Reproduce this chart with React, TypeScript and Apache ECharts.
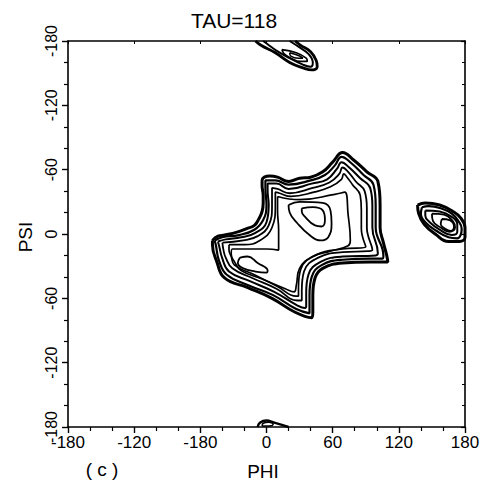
import React, { useEffect, useRef } from "react";
import * as echarts from "echarts";

const xTickLabels = ["-180", "-120", "-180", "0", "60", "120", "180"];
const yTickLabels = ["-180", "-120", "-60", "0", "-60", "-120", "-180"];

// Main region contours (phi, psi)
const mainC1 = [[-49,-6],[-44,-2],[-38,-1],[-26,2],[-18,5],[-11,8],[-7,14],[-4,21],[-3,29],[-3,36],[-4,45],[-4,50],[-2,53],[3,54],[10,53],[20,49],[30,52],[40,53],[51,58],[60,67],[69,76],[79,69],[91,58],[101,49],[103,27],[103,6],[106,-8],[109,-20],[110,-26],[94,-26],[69,-27],[51,-32],[44,-41],[42,-57],[42,-73],[41,-78],[26,-73],[5,-60],[-17,-50],[-38,-41],[-45,-26],[-49,-10]];
const mainC2 = [[-47,-6],[-40,-3],[-25,-1],[-11,4],[-3,13],[0,27],[-1,43],[-1,50],[8,50],[20,46],[40,50],[53,55],[62,64],[68,72],[77,66],[88,55],[97,46],[99,27],[99,6],[106,-20],[105,-23],[94,-23],[69,-24],[50,-29],[41,-40],[39,-57],[39,-71],[39,-74],[27,-70],[6,-57],[-16,-48],[-36,-38],[-43,-25],[-46,-10]];
const mainC3 = [[-44,-7],[-37,-5],[-23,-3],[-10,1],[0,11],[2,27],[1,41],[1,47],[9,47],[20,42],[41,47],[55,51],[64,61],[68,67],[75,62],[85,52],[94,43],[96,26],[96,6],[101,-18],[99,-20],[69,-21],[49,-26],[38,-38],[36,-55],[36,-67],[35,-69],[27,-66],[7,-54],[-15,-44],[-34,-35],[-40,-23],[-43,-11]];
const mainC4 = [[-40,-8],[-21,-6],[-8,-2],[2,8],[5,26],[5,43],[10,42],[21,38],[42,43],[57,48],[66,56],[69,62],[74,58],[81,49],[89,40],[91,24],[91,6],[96,-15],[92,-16],[69,-17],[47,-22],[34,-35],[32,-53],[32,-62],[28,-62],[9,-51],[-13,-41],[-31,-32],[-37,-22],[-39,-15]];
const mainC5 = [[-34,-10],[-20,-10],[-6,-6],[5,6],[8,26],[8,39],[12,38],[22,35],[43,39],[58,44],[68,51],[70,56],[73,53],[78,46],[85,36],[86,22],[86,5],[90,-12],[69,-14],[46,-19],[31,-33],[29,-50],[29,-58],[27,-58],[10,-49],[-11,-38],[-29,-29],[-32,-21],[-34,-15]];
const mainC6 = [[10,35],[30,32],[62,37],[71,39],[74,18],[76,-6],[74,-11],[58,-16],[42,-21],[30,-32],[27,-48],[25,-54],[17,-51],[-4,-42],[-23,-34],[-29,-26],[-32,-19],[-31,-14],[-15,-14],[0,-14],[11,-15],[11,4],[10,22]];
const upperIslandOuter = [[20,27],[30,30],[51,29],[58,22],[59,10],[56,-3],[49,-6],[39,-1],[28,10],[21,20]];
const upperIslandInner = [[32,24],[42,25],[51,22],[53,13],[50,7],[44,8],[35,16],[32,21]];
const lowerIsland = [[-24,-22],[-17,-21],[-8,-27],[1,-34],[0,-36],[-10,-35],[-21,-32],[-26,-27]];

// Right region (phi ~ 160, psi ~ 10)
const rightR1 = [[137,27],[144,29],[157,27],[169,21],[176,15],[180,6],[180,-3],[175,-7],[165,-7],[153,0],[143,9],[138,19]];
const rightR2 = [[141,25],[147,26],[158,24],[168,19],[174,12],[177,5],[176,-1],[173,-4],[165,-3],[154,3],[144,11],[140,19]];
const rightR3 = [[144,22],[157,21],[168,16],[173,9],[173,2],[168,-1],[157,4],[148,11],[144,17]];
const rightR4 = [[150,19],[161,18],[169,12],[171,6],[166,2],[158,6],[151,12]];
const rightR5 = [[159,14],[166,13],[170,7],[167,3],[162,5],[158,9]];

// Top region (psi ~ 165)
const topT1 = [[-10,180],[-5,176],[8,169],[21,160],[33,155],[41,153],[46,156],[45,162],[40,170],[31,176],[26,180]];
const topT2 = [[-3,180],[1,177],[9,171],[21,164],[33,158],[40,156],[42,160],[38,168],[30,174],[21,180]];
const topT3 = [[14,172],[27,169],[36,164],[37,161],[31,161],[22,164],[16,168]];
const topT4 = [[21,169],[30,166],[33,164],[29,164],[22,166]];

// Bottom region (psi ~ -178)
const bottomB1 = [[-8,-180],[-6,-176],[0,-174],[7,-176],[20,-180]];
const bottomB2 = [[-4,-179],[-3,-176.5],[2,-175.5],[6,-177.5],[2,-179]];

const closed = (pts: number[][]) => [...pts, pts[0]];

const contours: { data: number[][]; width: number; close: boolean }[] = [
  { data: mainC1, width: 3, close: true },
  { data: mainC2, width: 2.2, close: true },
  { data: mainC3, width: 2, close: true },
  { data: mainC4, width: 1.8, close: true },
  { data: mainC5, width: 1.7, close: true },
  { data: mainC6, width: 1.7, close: true },
  { data: upperIslandOuter, width: 1.8, close: true },
  { data: upperIslandInner, width: 1.8, close: true },
  { data: lowerIsland, width: 1.8, close: true },
  { data: rightR1, width: 3, close: true },
  { data: rightR2, width: 2.2, close: true },
  { data: rightR3, width: 2, close: true },
  { data: rightR4, width: 1.8, close: true },
  { data: rightR5, width: 1.8, close: true },
  { data: topT1, width: 2.8, close: false },
  { data: topT2, width: 2, close: false },
  { data: topT3, width: 1.7, close: true },
  { data: topT4, width: 1.5, close: true },
  { data: bottomB1, width: 2.4, close: false },
  { data: bottomB2, width: 1.5, close: true },
];

const FONT = "'Liberation Sans', Arial, sans-serif";

export default function App() {
  const ref = useRef<HTMLDivElement>(null);
  useEffect(() => {
    if (!ref.current) return;
    const chart = echarts.init(ref.current, undefined, { renderer: "svg" });
    const axisLine = { show: true, onZero: false, lineStyle: { color: "#000", width: 1.6 } };
    const xLabel = (v: number) => xTickLabels[Math.round((v + 180) / 60)] ?? "";
    const yLabel = (v: number) => yTickLabels[Math.round((v + 180) / 60)] ?? "";
    chart.setOption({
      animation: false,
      backgroundColor: "#fff",
      grid: { left: 68, right: 22, top: 41, bottom: 54, containLabel: false },
      xAxis: [
        {
          type: "value", min: -180, max: 180, interval: 60, position: "bottom",
          axisLine,
          axisTick: { show: true, inside: false, length: 6, lineStyle: { color: "#000", width: 1.4 } },
          minorTick: { show: true, splitNumber: 3, length: 4, lineStyle: { color: "#000", width: 1.2 } },
          axisLabel: { formatter: xLabel, color: "#000", fontSize: 17, margin: 7, fontFamily: FONT },
          splitLine: { show: false }, minorSplitLine: { show: false },
        },
        {
          type: "value", min: -180, max: 180, interval: 60, position: "top",
          axisLine,
          axisTick: { show: true, inside: true, length: 3, lineStyle: { color: "#000", width: 1 } },
          minorTick: { show: false },
          axisLabel: { show: false },
          splitLine: { show: false },
        },
      ],
      yAxis: [
        {
          type: "value", min: -180, max: 180, interval: 60, position: "left",
          axisLine,
          axisTick: { show: true, inside: false, length: 6, lineStyle: { color: "#000", width: 1.4 } },
          minorTick: { show: true, splitNumber: 3, length: 4, lineStyle: { color: "#000", width: 1.2 } },
          axisLabel: { formatter: yLabel, color: "#000", fontSize: 16, margin: 9, rotate: 90, fontFamily: FONT },
          splitLine: { show: false }, minorSplitLine: { show: false },
        },
        {
          type: "value", min: -180, max: 180, interval: 60, position: "right",
          axisLine,
          axisTick: { show: true, inside: true, length: 4, lineStyle: { color: "#000", width: 1.2 } },
          minorTick: { show: true, splitNumber: 3, length: 3, lineStyle: { color: "#000", width: 1 } },
          axisLabel: { show: false },
          splitLine: { show: false }, minorSplitLine: { show: false },
        },
      ],
      series: contours.map((c) => ({
        type: "line",
        xAxisIndex: 0,
        yAxisIndex: 0,
        data: c.close ? closed(c.data) : c.data,
        symbol: "none",
        showSymbol: false,
        smooth: 0.45,
        clip: true,
        silent: true,
        lineStyle: { color: "#000", width: c.width },
      })),
      graphic: [
        {
          type: "text", x: 234, y: 20,
          style: { text: "TAU=118", fontSize: 21, fontFamily: FONT, fill: "#000", align: "center", verticalAlign: "middle", textAlign: "center", textVerticalAlign: "middle" },
        },
        {
          type: "text", x: 25, y: 237, rotation: Math.PI / 2,
          style: { text: "PSI", fontSize: 19, fontFamily: FONT, fill: "#000", align: "center", verticalAlign: "middle", textAlign: "center", textVerticalAlign: "middle" },
        },
        {
          type: "text", x: 263, y: 471,
          style: { text: "PHI", fontSize: 19, fontFamily: FONT, fill: "#000", align: "center", verticalAlign: "middle", textAlign: "center", textVerticalAlign: "middle" },
        },
        {
          type: "text", x: 102, y: 469,
          style: { text: "( c )", fontSize: 19, fontFamily: FONT, fill: "#000", align: "center", verticalAlign: "middle", textAlign: "center", textVerticalAlign: "middle" },
        },
      ],
    });
    return () => chart.dispose();
  }, []);
  return <div ref={ref} style={{ position: "fixed", left: 0, top: 0, width: 487, height: 481, background: "#fff" }} />;
}
